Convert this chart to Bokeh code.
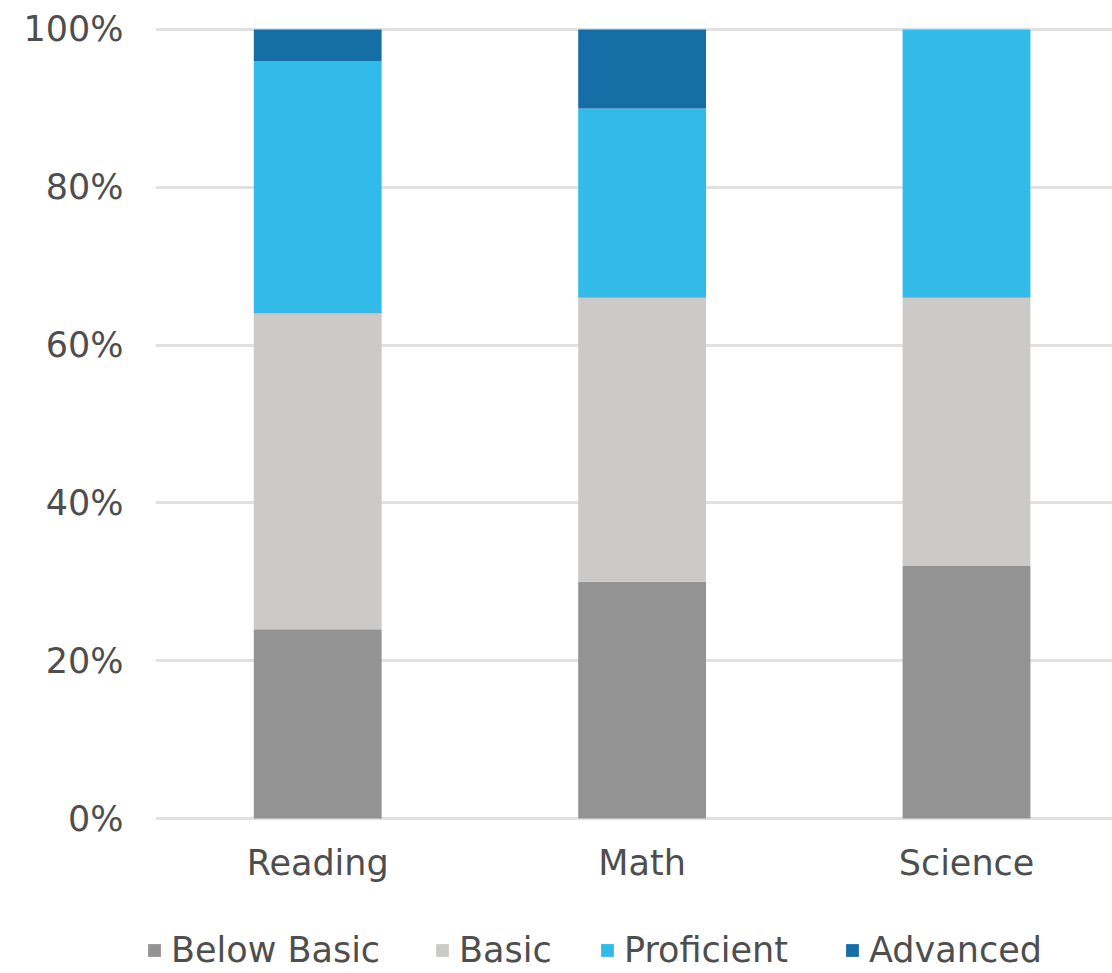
from bokeh.plotting import figure
from bokeh.layouts import column, row
from bokeh.models import ColumnDataSource, Range1d, FixedTicker, Legend, LegendItem
from bokeh.embed import file_html
from bokeh.resources import INLINE

# Subjects and achievement-level shares (percent of students)
subjects = ["Reading", "Math", "Science"]
levels = ["Below Basic", "Basic", "Proficient", "Advanced"]
below_basic = [24, 30, 32]
basic = [40, 36, 34]
proficient = [32, 24, 34]
advanced = [4, 10, 0]
y_ticks = [0, 20, 40, 60, 80, 100]
y_tick_labels = ["0%", "20%", "40%", "60%", "80%", "100%"]

colors = ["#939393", "#CBCAC8", "#32BBE8", "#166EA6"]
FONT = "DejaVu Sans"
SIZE = "35px"
TEXT = "#4E4E4E"
LEFT = 155

x = list(range(len(subjects)))
source = ColumnDataSource(data={
    "x": x,
    "Below Basic": below_basic,
    "Basic": basic,
    "Proficient": proficient,
    "Advanced": advanced,
})

# ---- main chart ----
# a little headroom above 100 and below 0 keeps the outer gridlines whole
p = figure(width=1112, height=900, output_backend="svg", toolbar_location=None,
           x_range=Range1d(-0.5, 2.45), y_range=Range1d(-0.25, 100.25),
           min_border_left=LEFT, min_border_right=0, min_border_top=27,
           min_border_bottom=80)

renderers = p.vbar_stack(levels, x="x", width=0.394, color=colors,
                         line_color=None, source=source)

p.outline_line_color = None
p.background_fill_color = "white"
p.border_fill_color = "white"

# Horizontal grid only
p.xgrid.grid_line_color = None
p.ygrid.grid_line_color = "#E1E1E1"
p.ygrid.grid_line_width = 3
p.ygrid.ticker = FixedTicker(ticks=y_ticks)

# Y axis: percentage labels, no line or ticks
p.yaxis.ticker = FixedTicker(ticks=y_ticks)
p.yaxis.major_label_overrides = {t: l for t, l in zip(y_ticks, y_tick_labels)}
p.yaxis.axis_line_color = None
p.yaxis.major_tick_line_color = None
p.yaxis.minor_tick_line_color = None
p.yaxis.major_label_standoff = 26
p.yaxis.major_label_text_font = FONT
p.yaxis.major_label_text_font_size = SIZE
p.yaxis.major_label_text_color = TEXT

# X axis: subject names
p.xaxis.ticker = FixedTicker(ticks=x)
p.xaxis.major_label_overrides = {i: s for i, s in enumerate(subjects)}
p.xaxis.axis_line_color = None
p.xaxis.major_tick_line_color = None
p.xaxis.minor_tick_line_color = None
p.xaxis.major_label_standoff = 16
p.xaxis.major_label_text_font = FONT
p.xaxis.major_label_text_font_size = SIZE
p.xaxis.major_label_text_color = TEXT

# ---- legend strip ----
lg = figure(width=1112, height=73, output_backend="svg", toolbar_location=None,
            x_range=Range1d(0, 1112), y_range=Range1d(0, 73),
            min_border=0, x_axis_type=None, y_axis_type=None)
lg.outline_line_color = None
lg.xgrid.visible = False
lg.ygrid.visible = False

legend_x = [146, 434, 599, 844]
for level, color, lx in zip(levels, colors, legend_x):
    # a single off-screen bar gives the legend swatch its colour
    r = lg.vbar(x=[-5000], top=[0], width=1, color=color, line_color=None)
    leg = Legend(
        items=[LegendItem(label=level, renderers=[r], index=0)],
        location=(lx, 3),
        glyph_width=16, glyph_height=16,
        label_standoff=9, padding=0, margin=0,
        label_text_font=FONT, label_text_font_size=SIZE, label_text_color=TEXT,
        border_line_color=None, background_fill_alpha=0,
    )
    lg.add_layout(leg, "center")

open("out.html", "w").write(file_html(column(p, row(lg), spacing=0), INLINE))
